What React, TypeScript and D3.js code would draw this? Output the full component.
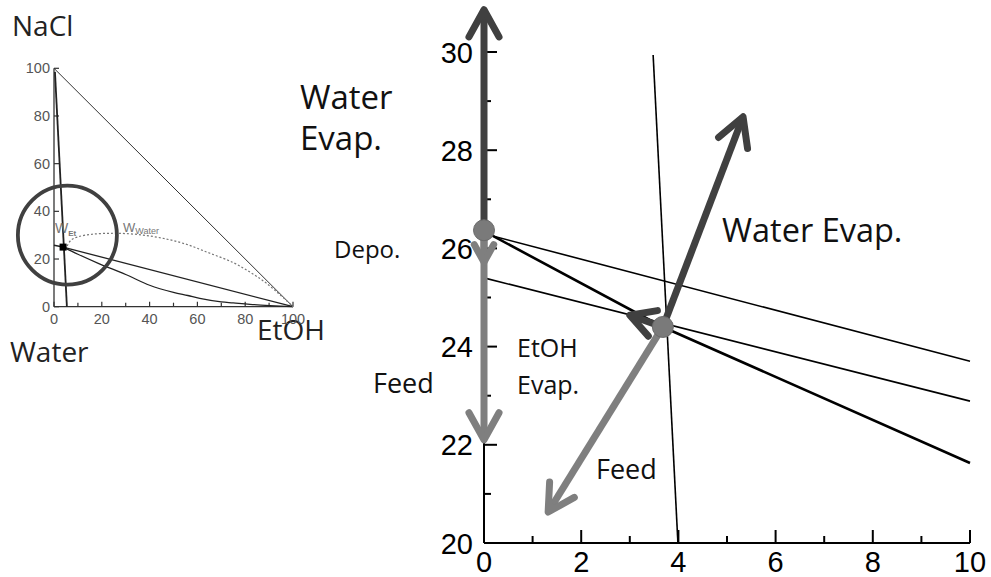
import React from "react";
import * as d3 from "d3";

// ---------- main chart data ----------
const xTicks = [0, 2, 4, 6, 8, 10];
const xMinor = [1, 3, 5, 7, 9];
const yTicks = [20, 22, 24, 26, 28, 30];
const yMinor = [21, 23, 25, 27, 29];

const lineUpper: [number, number][] = [[0, 26.3], [10, 23.7]];
const lineBold: [number, number][] = [[0, 26.35], [3.68, 24.4], [10, 21.63]];
const lineMiddle: [number, number][] = [[0, 25.4], [10, 22.89]];
const lineSteep: [number, number][] = [[3.48, 29.94], [3.99, 20]];
const statePoints: [number, number][] = [[0, 26.37], [3.68, 24.4]];

type Arrow = { from: number; to: [number, number]; tone: "dark" | "light"; head: number };
const arrows: Arrow[] = [
  { from: 0, to: [0, 22.1], tone: "light", head: 31 },
  { from: 0, to: [0, 25.72], tone: "light", head: 20 },
  { from: 0, to: [0, 30.86], tone: "dark", head: 31 },
  { from: 1, to: [1.32, 20.63], tone: "light", head: 30 },
  { from: 1, to: [5.33, 28.68], tone: "dark", head: 32 },
  { from: 1, to: [3.0, 24.64], tone: "dark", head: 28 },
];

const mainLabels = [
  { text: "Water", x: 300, y: 109, size: 33 },
  { text: "Evap.", x: 300, y: 150, size: 33 },
  { text: "Depo.", x: 334, y: 258, size: 24 },
  { text: "Feed", x: 373, y: 393, size: 27 },
  { text: "EtOH", x: 517, y: 357, size: 25 },
  { text: "Evap.", x: 517, y: 394, size: 25 },
  { text: "Feed", x: 596, y: 479, size: 27 },
  { text: "Water Evap.", x: 722, y: 242, size: 32.5 },
];

// ---------- inset (phase diagram) data ----------
const insetTicks = [0, 20, 40, 60, 80, 100];
const insetMinorX = [10, 30, 50, 70, 90];
const insetHyp: [number, number][] = [[0, 100], [100, 0]];
const insetSteep: [number, number][] = [[0.4, 98.5], [5.4, 0]];
const insetStraight: [number, number][] = [[3.8, 25], [100, 0]];
const insetShort: [number, number][] = [[0, 25.8], [3.8, 25]];
const insetLower: [number, number][] = [
  [3.8, 25], [10, 22], [19, 18], [30, 13.5], [40, 9], [50, 6], [56, 4.7], [61, 3.5], [70, 2], [75, 1.6], [82, 1], [100, 0],
];
const insetDotted: [number, number][] = [
  [5.5, 25.5], [7, 27.8], [10, 29.3], [16, 30.4], [25, 30.8], [35, 30.3], [45, 28.8], [55, 26.3],
  [65, 22.5], [75, 18.5], [82, 14.5], [88, 10.5], [94, 5.5], [100, 0],
];
const insetDot: [number, number] = [3.8, 25];
const insetRing: [number, number] = [5.6, 30];

const DARK = "#404040";
const LIGHT = "#7f7f7f";
const TEXT_FONT = "'Open Sans', 'Noto Sans', sans-serif";
const NUM_FONT = "'Liberation Sans', Arial, sans-serif";

export default function App() {
  const x = d3.scaleLinear().domain([0, 10]).range([484, 970]);
  const y = d3.scaleLinear().domain([20, 30]).range([543, 52]);
  const line = d3.line<[number, number]>().x((d) => x(d[0])).y((d) => y(d[1]));

  const ix = d3.scaleLinear().domain([0, 100]).range([54, 293]);
  const iy = d3.scaleLinear().domain([0, 100]).range([306.7, 68.3]);
  const iline = d3.line<[number, number]>().x((d) => ix(d[0])).y((d) => iy(d[1]));
  const icurve = d3
    .line<[number, number]>()
    .x((d) => ix(d[0]))
    .y((d) => iy(d[1]))
    .curve(d3.curveCatmullRom);

  const headPath = (bx: number, by: number, tx: number, ty: number, L: number) => {
    const dx = tx - bx;
    const dy = ty - by;
    const len = Math.hypot(dx, dy);
    const ux = dx / len;
    const uy = dy / len;
    const th = (29 * Math.PI) / 180;
    const rot = (a: number) => [ux * Math.cos(a) - uy * Math.sin(a), ux * Math.sin(a) + uy * Math.cos(a)];
    const [ax, ay] = rot(th);
    const [cx, cy] = rot(-th);
    return `M${tx - L * ax},${ty - L * ay}L${tx},${ty}L${tx - L * cx},${ty - L * cy}`;
  };

  return (
    <svg
      width={991}
      height={577}
      style={{ position: "absolute", left: 0, top: 0, background: "#fff" }}
    >
      <rect width={991} height={577} fill="#fff" />

      {/* ---------- inset ---------- */}
      <g>
        <text x={12} y={36} fontFamily={TEXT_FONT} fontSize={28} fill="#222">NaCl</text>
        <text x={10} y={362} fontFamily={TEXT_FONT} fontSize={28} fill="#222">Water</text>
        <text x={257} y={340} fontFamily={TEXT_FONT} fontSize={28} fill="#222">EtOH</text>

        <line x1={ix(0)} x2={ix(0)} y1={iy(0)} y2={iy(100)} stroke="#333" strokeWidth={1.3} />
        <line x1={ix(0)} x2={ix(100)} y1={iy(0)} y2={iy(0)} stroke="#333" strokeWidth={1.3} />
        {insetTicks.map((t) => (
          <g key={"iy" + t}>
            <line x1={ix(0)} x2={ix(0) + 5} y1={iy(t)} y2={iy(t)} stroke="#333" strokeWidth={1.2} />
            <text x={ix(0) - 4} y={iy(t) + 5} textAnchor="end" fontFamily={NUM_FONT} fontSize={14.5} fill="#555">{t}</text>
          </g>
        ))}
        {insetTicks.map((t) => (
          <g key={"ix" + t}>
            <line x1={ix(t)} x2={ix(t)} y1={iy(0)} y2={iy(0) - 5} stroke="#333" strokeWidth={1.2} />
            <text x={ix(t)} y={iy(0) + 17} textAnchor="middle" fontFamily={NUM_FONT} fontSize={14.5} fill="#555">{t}</text>
          </g>
        ))}
        {insetMinorX.map((t) => (
          <line key={"imx" + t} x1={ix(t)} x2={ix(t)} y1={iy(0)} y2={iy(0) - 4} stroke="#333" strokeWidth={1.2} />
        ))}

        <path d={iline(insetHyp) ?? ""} fill="none" stroke="#333" strokeWidth={1} />
        <path d={iline(insetSteep) ?? ""} fill="none" stroke="#222" strokeWidth={1.8} />
        <path d={iline(insetStraight) ?? ""} fill="none" stroke="#222" strokeWidth={1.3} />
        <path d={iline(insetShort) ?? ""} fill="none" stroke="#222" strokeWidth={1.5} />
        <path d={icurve(insetLower) ?? ""} fill="none" stroke="#222" strokeWidth={1.3} />
        <path d={icurve(insetDotted) ?? ""} fill="none" stroke="#777" strokeWidth={1.2} strokeDasharray="2,2" />
        <rect x={ix(insetDot[0]) - 3.5} y={iy(insetDot[1]) - 3.5} width={7} height={7} fill="#000" />

        <text x={55} y={233} fontFamily={NUM_FONT} fontSize={14} fill="#777">
          W<tspan fontSize={8} dy={3} fontWeight="bold">Et</tspan>
        </text>
        <text x={123} y={232} fontFamily={NUM_FONT} fontSize={13} fill="#777">
          W<tspan fontSize={9} dy={2}>Water</tspan>
        </text>

        <circle cx={ix(insetRing[0])} cy={iy(insetRing[1])} r={49.5} fill="none" stroke={DARK} strokeWidth={3.8} />
      </g>

      {/* ---------- main chart ---------- */}
      <g>
        {/* phase lines */}
        <path d={line(lineUpper) ?? ""} fill="none" stroke="#000" strokeWidth={1.6} />
        <path d={line(lineMiddle) ?? ""} fill="none" stroke="#000" strokeWidth={1.6} />
        <path d={line(lineBold) ?? ""} fill="none" stroke="#000" strokeWidth={2.6} />
        <path d={line(lineSteep) ?? ""} fill="none" stroke="#000" strokeWidth={1.6} />

        {/* axes */}
        <line x1={x(0)} x2={x(10)} y1={y(20)} y2={y(20)} stroke="#000" strokeWidth={2} />
        <line x1={x(0)} x2={x(0)} y1={y(20)} y2={y(30)} stroke="#000" strokeWidth={2} />
        {xTicks.map((t) => (
          <g key={"xt" + t}>
            <line x1={x(t)} x2={x(t)} y1={y(20)} y2={y(20) - 13} stroke="#000" strokeWidth={2} />
            <text x={x(t)} y={572} textAnchor="middle" fontFamily={NUM_FONT} fontSize={29} fill="#000">{t}</text>
          </g>
        ))}
        {xMinor.map((t) => (
          <line key={"xm" + t} x1={x(t)} x2={x(t)} y1={y(20)} y2={y(20) - 7} stroke="#000" strokeWidth={2} />
        ))}
        {yTicks.map((t) => (
          <g key={"yt" + t}>
            <line x1={x(0)} x2={x(0) + 13} y1={y(t)} y2={y(t)} stroke="#000" strokeWidth={2} />
            <text x={473} y={y(t) + 10.5} textAnchor="end" fontFamily={NUM_FONT} fontSize={29} fill="#000">{t}</text>
          </g>
        ))}
        {yMinor.map((t) => (
          <line key={"ym" + t} x1={x(0)} x2={x(0) + 7} y1={y(t)} y2={y(t)} stroke="#000" strokeWidth={2} />
        ))}

        {/* arrows */}
        {arrows.map((a, i) => {
          const base = statePoints[a.from];
          const bx = x(base[0]);
          const by = y(base[1]);
          const tx = x(a.to[0]);
          const ty = y(a.to[1]);
          const col = a.tone === "dark" ? DARK : LIGHT;
          return (
            <g key={"ar" + i}>
              <line x1={bx} y1={by} x2={tx} y2={ty} stroke={col} strokeWidth={7} />
              <path d={headPath(bx, by, tx, ty, a.head)} fill="none" stroke={col} strokeWidth={7}
                strokeLinecap="round" strokeLinejoin="round" />
            </g>
          );
        })}

        {/* state points */}
        {statePoints.map((p, i) => (
          <circle key={"sp" + i} cx={x(p[0])} cy={y(p[1])} r={10.5} fill="#7a7a7a" stroke="#6a6a6a" strokeWidth={1} />
        ))}

        {/* labels */}
        {mainLabels.map((l, i) => (
          <text key={"lb" + i} x={l.x} y={l.y} fontFamily={TEXT_FONT} fontSize={l.size} fill="#111">{l.text}</text>
        ))}
      </g>
    </svg>
  );
}
